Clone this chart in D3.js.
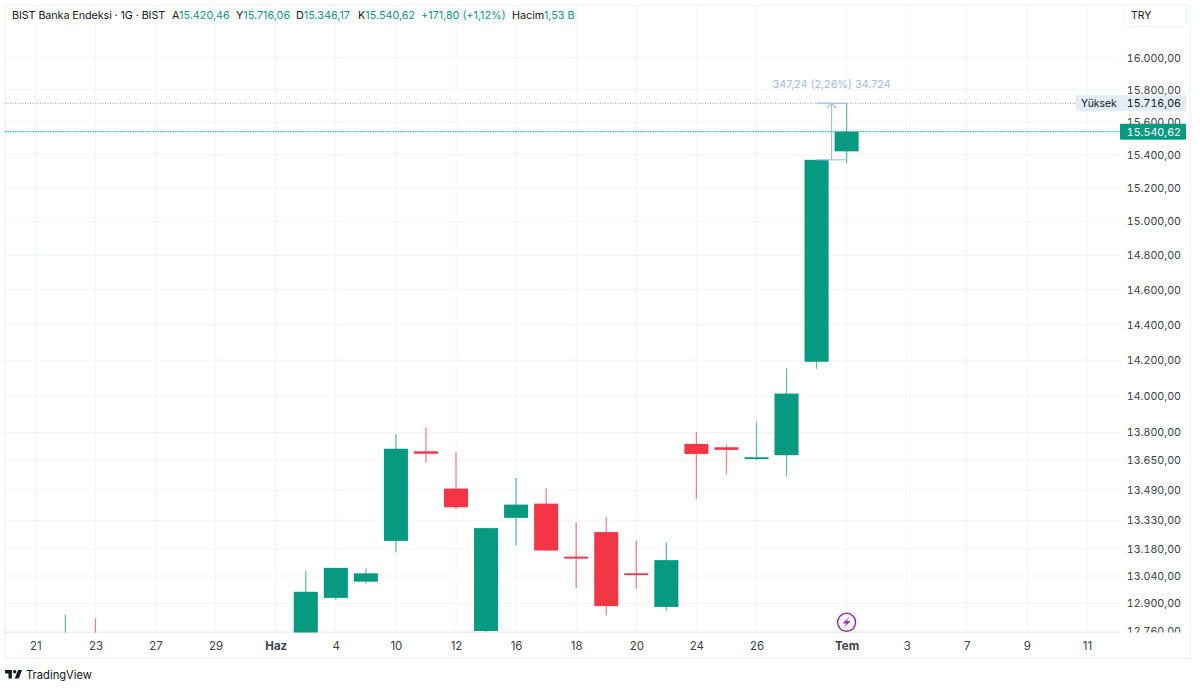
<!DOCTYPE html>
<html><head><meta charset="utf-8">
<style>
html,body{margin:0;padding:0;background:#fff;width:1200px;height:689px;overflow:hidden}
svg{display:block;font-family:Inter,"Noto Sans",sans-serif}
.tn{font-feature-settings:"tnum"}
</style>
<script src="https://cdn.jsdelivr.net/npm/d3@7/dist/d3.min.js"></script>
</head><body><svg id="c" width="1200" height="689"></svg>
<script>
// ---- data ----
const sessions = ["05-20","05-21","05-22","05-23","05-26","05-27","05-28","05-29","05-30","06-02","06-03","06-04","06-05","06-10","06-11","06-12","06-13","06-16","06-17","06-18","06-19","06-20","06-23","06-24","06-25","06-26","06-27","06-30","07-01","07-02","07-03","07-04","07-07","07-08","07-09","07-10","07-11"];
const candleDates = ["05-20","05-22","05-23","06-03","06-04","06-05","06-10","06-11","06-12","06-13","06-16","06-17","06-18","06-19","06-20","06-23","06-24","06-25","06-26","06-27","06-30","07-01"];
const opens  = [12700,12660,12700,12700,12928,13011,13222,13698,13498,12760,13343,13418,13140,13268,13054,12882,13738,13720,13658,13677,14191,15420.46];
const highs  = [12756,12843,12825,13068,13082,13080,13791,13829,13695,13289,13555,13500,13318,13350,13224,13212,13804,13734,13857,14155,15368.82,15716.06];
const lows   = [12640,12640,12640,12680,12918,13001,13163,13638,13388,12752,13200,13172,12978,12838,12974,12863,13443,13575,13650,13562,14151,15346.17];
const closes = [12680,12700,12660,12959,13082,13054,13712,13685,13399,13289,13413,13172,13130,12886,13045,13122,13684,13706,13666,14014,15368.82,15540.62];
const priceTicks = [16000,15800,15600,15400,15200,15000,14800,14600,14400,14200,14000,13800,13650,13490,13330,13180,13040,12900,12760];
const timeTicks = ["05-21","05-23","05-27","05-29","06-02","06-04","06-10","06-12","06-16","06-18","06-20","06-24","06-26","07-01","07-03","07-07","07-09","07-11"];
const timeLabels = ["21","23","27","29","Haz","4","10","12","16","18","20","24","26","Tem","3","7","9","11"];
const boldLabels = ["Haz","Tem"];
const lastClose = 15540.62, dayHigh = 15716.06, prevClose = 15368.82;
const headerTitle = "BIST Banka Endeksi · 1G · BIST";
const headerParts = [["A","15.420,46",172],["Y","15.716,06",236],["D","15.346,17",296],["K","15.540,62",358]];
const changeText = "+171,80 (+1,12%)";
const measureText = "347,24 (2,26%) 34.724";

// ---- layout ----
const L=5,R=1120,T=5,B=632.5,OR=1190,OB=658.5;
const UP="#089981",DN="#F23645",GRID="#f3f4f7",BORDER="#eef0f4",INK="#131722",AX="#3c3f48",MEAS="#a3b9ee";
const svg=d3.select("#c");
const x=d3.scalePoint().domain(sessions).range([5.3,1087]);
const y=d3.scaleLog().domain([12760,16000]).range([631,57.9]);
const bw=x.step()*0.8;
const loc=d3.formatLocale({decimal:",",thousands:".",grouping:[3],currency:["",""]});
const fp=loc.format(",.2f");
const defs=svg.append("defs");
defs.append("clipPath").attr("id","plot").append("rect").attr("x",L).attr("y",T).attr("width",R-L).attr("height",B-T);
defs.append("clipPath").attr("id","pax").append("rect").attr("x",R).attr("y",T).attr("width",OR-R).attr("height",B-T);

// grid
const gridG=svg.append("g");
gridG.selectAll("line.h").data(priceTicks).join("line").attr("class","h")
 .attr("x1",L).attr("x2",R).attr("y1",d=>y(d)).attr("y2",d=>y(d)).attr("stroke",GRID);
gridG.selectAll("line.v").data(timeTicks).join("line").attr("class","v")
 .attr("x1",d=>x(d)).attr("x2",d=>x(d)).attr("y1",T).attr("y2",B).attr("stroke",GRID);

// frame
svg.append("path").attr("d",`M${L} ${T}V${OB}H${OR}V${T}H${L}`).attr("fill","none").attr("stroke",BORDER);
svg.append("line").attr("x1",L).attr("x2",R).attr("y1",B).attr("y2",B).attr("stroke",BORDER);

// axes
const yAxis=d3.axisRight(y).tickValues(priceTicks).tickFormat(fp).tickSize(0).tickPadding(0);
const ya=svg.append("g").attr("transform",`translate(1181,0)`).attr("class","tn").call(yAxis);
ya.select(".domain").remove();
ya.selectAll("text").attr("text-anchor","end").attr("font-size",10.7).attr("font-family","Inter,sans-serif").attr("fill",AX);
const yaw=svg.append("g").attr("clip-path","url(#pax)"); yaw.node().appendChild(ya.node());

const xAxis=d3.axisBottom(x).tickValues(timeTicks).tickFormat(d=>timeLabels[timeTicks.indexOf(d)]).tickSize(0).tickPadding(0);
const xa=svg.append("g").attr("transform",`translate(0,641.5)`).call(xAxis);
xa.select(".domain").remove();
xa.selectAll("text").attr("font-size",11.5).attr("font-family","Inter,sans-serif").attr("fill",AX)
 .attr("font-weight",d=>boldLabels.includes(timeLabels[timeTicks.indexOf(d)])?700:400);

// price lines
const pl=svg.append("g");
pl.append("line").attr("x1",L).attr("x2",R).attr("y1",y(dayHigh)).attr("y2",y(dayHigh)).attr("stroke","#a3a5ad").attr("stroke-dasharray","1 1.5");
pl.append("line").attr("x1",L).attr("x2",R).attr("y1",y(lastClose)).attr("y2",y(lastClose)).attr("stroke","#35c4ab").attr("stroke-width",1.3).attr("stroke-dasharray","1.5 1");

// candles
const cs=candleDates.map((d,i)=>({d,o:opens[i],h:highs[i],l:lows[i],c:closes[i]}));
const cg=svg.append("g").attr("clip-path","url(#plot)");
const col=d=>d.c>=d.o?UP:DN;
cg.selectAll("line").data(cs).join("line")
 .attr("x1",d=>x(d.d)).attr("x2",d=>x(d.d)).attr("y1",d=>y(d.h)).attr("y2",d=>y(d.l))
 .attr("stroke",col).attr("stroke-width",1.3).attr("stroke-opacity",.62);
cg.selectAll("rect").data(cs).join("rect")
 .attr("x",d=>x(d.d)-bw/2).attr("width",bw)
 .attr("y",d=>y(Math.max(d.o,d.c)))
 .attr("height",d=>Math.max(1.8,y(Math.min(d.o,d.c))-y(Math.max(d.o,d.c))))
 .attr("fill",col);

// measure annotation
const m0=x("06-30"),m1=x("07-01"),mx=(m0+m1)/2;
const mg=svg.append("g").attr("fill","none").attr("stroke",MEAS).attr("stroke-width",1.1);
mg.append("line").attr("x1",m0).attr("x2",m1).attr("y1",y(dayHigh)).attr("y2",y(dayHigh));
mg.append("line").attr("x1",m0).attr("x2",m1).attr("y1",y(prevClose)).attr("y2",y(prevClose));
mg.append("line").attr("x1",mx).attr("x2",mx).attr("y1",y(dayHigh)).attr("y2",y(prevClose));
mg.append("path").attr("d",`M${mx-5} ${y(dayHigh)+5}L${mx} ${y(dayHigh)}L${mx+5} ${y(dayHigh)+5}`);
svg.append("text").attr("x",mx).attr("y",88).attr("text-anchor","middle").attr("font-size",10.8).attr("fill",MEAS).text(measureText);

// price labels
svg.append("rect").attr("x",1076).attr("y",y(dayHigh)-8).attr("width",110).attr("height",16).attr("fill","#e3edf9");
svg.append("text").attr("x",1081).attr("y",y(dayHigh)+4).attr("font-size",10.4).attr("fill",INK).text("Yüksek");
svg.append("text").attr("class","tn").attr("x",1181).attr("y",y(dayHigh)+4).attr("text-anchor","end").attr("font-size",10.7).attr("fill",INK).text(fp(dayHigh));
svg.append("rect").attr("x",1120).attr("y",y(lastClose)-8).attr("width",66).attr("height",16).attr("rx",1).attr("fill",UP);
svg.append("text").attr("class","tn").attr("x",1181).attr("y",y(lastClose)+4).attr("text-anchor","end").attr("font-size",10.7).attr("fill","#fff").text(fp(lastClose));

// header
const fs=10.8;
svg.append("text").attr("x",12).attr("y",19).attr("font-size",fs).attr("letter-spacing",-0.1).attr("fill",INK).text(headerTitle);
headerParts.forEach(p=>{
  const t=svg.append("text").attr("x",p[2]).attr("y",19).attr("font-size",fs).attr("fill",INK);
  t.append("tspan").text(p[0]); t.append("tspan").attr("fill",UP).text(p[1]);
});
svg.append("text").attr("x",421).attr("y",19).attr("font-size",fs).attr("fill",UP).text(changeText);
const h=svg.append("text").attr("x",512).attr("y",19).attr("font-size",fs).attr("fill",INK);
h.append("tspan").text("Hacim"); h.append("tspan").attr("fill",UP).text("1,53 B");
svg.append("rect").attr("x",1123.5).attr("y",5.5).attr("width",63).attr("height",21).attr("rx",3).attr("fill","#fff").attr("stroke","#f3f4f7");
svg.append("text").attr("x",1131).attr("y",19).attr("font-size",10.5).attr("fill",INK).text("TRY");

// event marker
const ev=svg.append("g").attr("transform",`translate(${x("07-01")},622.3)`);
ev.append("circle").attr("r",9).attr("fill","#fff").attr("stroke","#9c27b0").attr("stroke-width",1.4);
ev.append("path").attr("d","M3.2 -6L-4 1.2H0L-3.2 6L4 -1.2H0Z").attr("fill","#9c27b0");

// logo
const lg=svg.append("g").attr("transform","translate(3.9,666.6) scale(0.57)");
lg.append("path").attr("d","M14 6H2v6h6v9h6V6Zm12 15h-7l6-15h7l-6 15Zm-7-9a3 3 0 1 0 0-6 3 3 0 0 0 0 6Z").attr("fill","#131722");
svg.append("text").attr("x",26).attr("y",678.5).attr("font-size",11.2).attr("fill",INK).text("TradingView");
</script></body></html>
